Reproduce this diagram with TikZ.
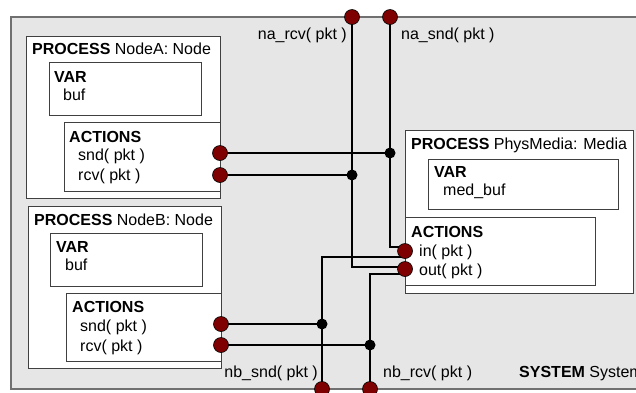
\documentclass[tikz,border=0pt]{standalone}
\usepackage{fontspec}
\setmainfont{Liberation Sans}
\usetikzlibrary{fit}
\definecolor{sysfill}{HTML}{E6E6E6}
\definecolor{sysline}{HTML}{707070}
\definecolor{boxline}{HTML}{404040}
\definecolor{portred}{HTML}{7F0000}
\pgfdeclarelayer{bg}
\pgfdeclarelayer{wires}
\pgfsetlayers{bg,wires,main}
\begin{document}
\begin{tikzpicture}[x=1pt,y=-1pt,
  font=\fontsize{16}{19}\selectfont,
  sysbox/.style={draw=sysline, fill=sysfill, line width=1.3pt},
  box/.style={draw=boxline, fill=white, line width=1pt, inner sep=0pt},
  lbl/.style={anchor=base west, inner sep=0pt},
  rlbl/.style={anchor=base east, inner sep=0pt},
  port/.style={circle, fill=portred, draw=black, line width=0.6pt, minimum size=15pt, inner sep=0pt},
  junc/.style={circle, fill=black, minimum size=11pt, inner sep=0pt},
  wire/.style={line width=2.6pt, black}
]
\useasboundingbox (0,0) rectangle (636,392);
\clip (0,0) rectangle (636,392);

% --- containers ---
\begin{pgfonlayer}{bg}
  \node[sysbox, inner sep=0pt, fit={(11,17) (700,389)}] (system) {};
  % NodeA
  \node[box, fit={(26,36) (220,198)}] (procA) {};
  \node[box, fit={(49,62) (201,115)}] (varA) {};
  \node[box, fit={(64,122) (220,191)}] (actA) {};
  % NodeB
  \node[box, fit={(28,206) (221,368)}] (procB) {};
  \node[box, fit={(50,233) (202,286)}] (varB) {};
  \node[box, fit={(66,293) (221,361)}] (actB) {};
  % PhysMedia
  \node[box, fit={(405,130) (633,293)}] (procM) {};
  \node[box, fit={(428,159) (618,209)}] (varM) {};
  \node[box, fit={(405,217) (595,285)}] (actM) {};
\end{pgfonlayer}

% --- texts ---
\node[lbl] (tA) at (32,54) {\textbf{PROCESS} NodeA: Node};
\node[lbl] (tAvar) at (54,82) {\textbf{VAR}};
\node[lbl] (tAbuf) at (63,100) {buf};
\node[lbl] (tAact) at (69,142) {\textbf{ACTIONS}};
\node[lbl] (tAsnd) at (78,160) {snd( pkt )};
\node[lbl] (tArcv) at (78,180) {rcv( pkt )};

\node[lbl] (tB) at (34,225) {\textbf{PROCESS} NodeB: Node};
\node[lbl] (tBvar) at (56,252) {\textbf{VAR}};
\node[lbl] (tBbuf) at (65,270) {buf};
\node[lbl] (tBact) at (72,312) {\textbf{ACTIONS}};
\node[lbl] (tBsnd) at (80,331) {snd( pkt )};
\node[lbl] (tBrcv) at (80,351) {rcv( pkt )};

\node[lbl] (tM) at (411,149) {\textbf{PROCESS} PhysMedia: Media};
\node[lbl] (tMvar) at (434,177) {\textbf{VAR}};
\node[lbl] (tMbuf) at (443,195) {med\_buf};
\node[lbl] (tMact) at (411,237) {\textbf{ACTIONS}};
\node[lbl] (tMin) at (419,256) {in( pkt )};
\node[lbl] (tMout) at (419,275) {out( pkt )};

\node[rlbl] (lNaRcv) at (347,39) {na\_rcv( pkt )};
\node[lbl] (lNaSnd) at (401,39) {na\_snd( pkt )};
\node[rlbl] (lNbSnd) at (318,377) {nb\_snd( pkt )};
\node[lbl] (lNbRcv) at (383,377) {nb\_rcv( pkt )};
\node[lbl] (lSys) at (519,377) {\textbf{SYSTEM} System};

% --- ports ---
\node[port] (aSnd) at (220,153) {};
\node[port] (aRcv) at (220,175) {};
\node[port] (bSnd) at (221,324) {};
\node[port] (bRcv) at (221,345) {};
\node[port] (mIn) at (405,251) {};
\node[port] (mOut) at (405,269) {};
\node[port] (naRcv) at (352,17) {};
\node[port] (naSnd) at (390,17) {};
\node[port] (nbSnd) at (322,389) {};
\node[port] (nbRcv) at (370,389) {};

% --- junctions ---
\node[junc] (jA1) at (390,153) {};
\node[junc] (jA2) at (352,175) {};
\node[junc] (jB1) at (322,324) {};
\node[junc] (jB2) at (370,345) {};

% --- wiring ---
\begin{pgfonlayer}{wires}
  \draw[wire] (naSnd.center) |- ([yshift=4pt]mIn.center);
  \draw[wire] (naRcv.center) |- ([yshift=2pt]mOut.center);
  \draw[wire] ([yshift=-6pt]mIn.center) -| (nbSnd.center);
  \draw[wire] ([yshift=-5pt]mOut.center) -| (nbRcv.center);
  \draw[wire] (aSnd.center) -- (jA1.center);
  \draw[wire] (aRcv.center) -- (jA2.center);
  \draw[wire] (bSnd.center) -- (jB1.center);
  \draw[wire] (bRcv.center) -- (jB2.center);
\end{pgfonlayer}
\end{tikzpicture}
\end{document}
